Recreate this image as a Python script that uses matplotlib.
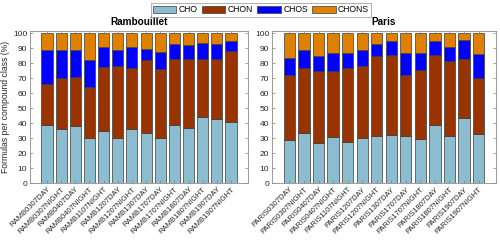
import matplotlib
matplotlib.use("Agg")
import matplotlib.pyplot as plt
import numpy as np

plt.rcParams['font.family'] = ['Liberation Sans', 'DejaVu Sans']

classes = ["CHO", "CHON", "CHOS", "CHONS"]
colors = ["#8bbccf", "#993300", "#0000ff", "#e08000"]

ramb_labels = ["RAMB0307DAY", "RAMB0307NIGHT", "RAMB0407DAY", "RAMB0407NIGHT",
               "RAMB1107NIGHT", "RAMB1207DAY", "RAMB1207NIGHT", "RAMB1307DAY",
               "RAMB1707DAY", "RAMB1707NIGHT", "RAMB1807DAY", "RAMB1807NIGHT",
               "RAMB1907DAY", "RAMB1907NIGHT"]
paris_labels = ["PARIS0307DAY", "PARIS0307NIGHT", "PARIS0407DAY", "PARIS0407NIGHT",
                "PARIS1107NIGHT", "PARIS1207DAY", "PARIS1207NIGHT", "PARIS1307DAY",
                "PARIS1707DAY", "PARIS1707NIGHT", "PARIS1807DAY", "PARIS1807NIGHT",
                "PARIS1907DAY", "PARIS1907NIGHT"]

# cumulative tops
ramb_cho  = [39, 36, 38, 30, 34.5, 30, 36, 33.5, 30, 38.5, 37, 44, 43, 40.5]
ramb_chon_top = [66, 70, 71, 64, 77.5, 78, 77, 82, 76, 83, 82.5, 82.5, 82.5, 88]
ramb_chos_top = [89, 88.5, 88.5, 82, 91, 88.5, 91, 89.5, 87.5, 92.5, 92, 93.5, 92.5, 94.5]

paris_cho = [29, 33.5, 27, 31, 27.5, 30, 31.5, 32, 31.5, 29.5, 39, 31.5, 43.5, 33]
paris_chon_top = [72, 76.5, 75, 74.5, 77, 78, 84.5, 85.5, 72, 75.5, 85.5, 81.5, 83, 70]
paris_chos_top = [83.5, 89, 85, 87, 87, 89, 93, 94.5, 87, 87, 94.5, 91, 95.5, 86]

def shares(cho, chon_top, chos_top):
    cho = np.array(cho, float)
    chon = np.array(chon_top, float) - cho
    chos = np.array(chos_top, float) - np.array(chon_top, float)
    chons = 100 - np.array(chos_top, float)
    return [cho, chon, chos, chons]

fig = plt.figure(figsize=(5.0, 2.42), dpi=100)
ax1 = fig.add_axes([30/500, 1-183/242, 218/500, 152/242])
ax2 = fig.add_axes([272/500, 1-183/242, 224/500, 152/242])

handles = []
for ax, labels, data, title in [
        (ax1, ramb_labels, shares(ramb_cho, ramb_chon_top, ramb_chos_top), "Rambouillet"),
        (ax2, paris_labels, shares(paris_cho, paris_chon_top, paris_chos_top), "Paris")]:
    x = np.arange(len(labels))
    bottom = np.zeros(len(labels))
    hs = []
    for vals, c, name in zip(data, colors, classes):
        h = ax.bar(x, vals, bottom=bottom, width=0.78, color=c,
                   edgecolor="#3c3c3c", linewidth=0.5, label=name)
        bottom += vals
        hs.append(h)
    handles = hs
    ax.set_xlim(-1.2, 14.2)
    ax.set_ylim(0, 101.5)
    ax.set_yticks(np.arange(0, 101, 10))
    ax.set_xticks(x)
    ax.set_xticklabels(labels, rotation=45, ha="right", rotation_mode="anchor",
                       fontsize=5.5, color="#262626")
    ax.tick_params(axis="y", labelsize=6, colors="#262626")
    ax.tick_params(direction="in", length=2, width=0.5, color="#808080",
                   top=True, right=True, pad=2)
    for s in ax.spines.values():
        s.set_color("#8c8c8c")
        s.set_linewidth(0.6)
    ax.set_title(title, fontsize=7.2, fontweight="bold", pad=4)

ax1.set_ylabel("Formulas per compound class (%)", fontsize=6.2, color="#262626", labelpad=2)

leg = fig.legend(handles, classes, loc="center", bbox_to_anchor=(261/500, 1-10/242),
                 ncol=4, fontsize=6.2, frameon=True, fancybox=False,
                 handlelength=2.7, handleheight=0.8, handletextpad=0.3,
                 columnspacing=0.5, borderpad=0.25, borderaxespad=0)
leg.get_frame().set_edgecolor("#8c8c8c")
leg.get_frame().set_linewidth(0.6)

fig.savefig("out.png", dpi=100)
